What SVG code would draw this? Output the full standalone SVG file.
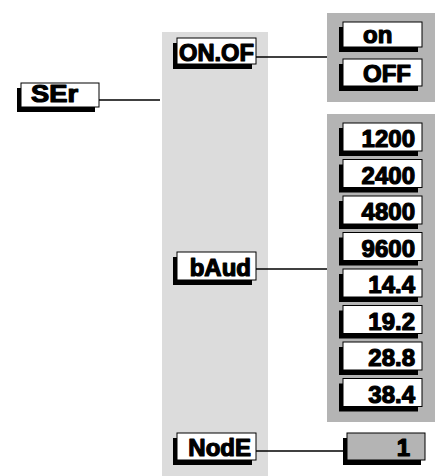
<svg xmlns="http://www.w3.org/2000/svg" width="442" height="476" viewBox="0 0 442 476">
  <style>
    .panel-l { fill: #dcdcdc; }
    .panel-r { fill: #b4b4b4; }
    .shadow { fill: #000; }
    .box { fill: #fff; stroke: #000; stroke-width: 1; }
    .box-g { fill: #b4b4b4; stroke: #000; stroke-width: 1; }
    .lbl { font-family: "Liberation Sans", Arial, sans-serif; font-weight: bold; font-size: 24px; fill: #000; stroke: #000; stroke-width: 1.2; stroke-linejoin: round; }
    .end { text-anchor: end; }
    .wire { stroke: #000; stroke-width: 1.6; fill: none; }
  </style>

  <!-- background panels -->
  <rect class="panel-l" x="162" y="32" width="106" height="444"/>
  <rect class="panel-r" x="327" y="13" width="108" height="89"/>
  <rect class="panel-r" x="327" y="114" width="108" height="308"/>

  <!-- connectors -->
  <g id="connectors">
    <line class="wire" x1="99" y1="100" x2="160" y2="100"/>
    <line class="wire" x1="256" y1="57" x2="327" y2="57"/>
    <line class="wire" x1="256" y1="269" x2="327" y2="269"/>
    <line class="wire" x1="256" y1="451" x2="347" y2="451"/>
  </g>

  <g id="ser">
    <rect class="shadow" x="17" y="88" width="78" height="24"/>
    <rect class="box" x="21" y="83" width="78" height="24"/>
    <text class="lbl" x="31" y="102" textLength="47" lengthAdjust="spacingAndGlyphs">SEr</text>
  </g>

  <g id="onof">
    <rect class="shadow" x="173" y="43" width="79" height="26"/>
    <rect class="box" x="177" y="38" width="79" height="26"/>
    <text class="lbl end" x="254" y="61" textLength="75" lengthAdjust="spacingAndGlyphs">ON.OF</text>
  </g>

  <g id="opt-on">
    <rect class="shadow" x="339" y="27" width="79" height="25"/>
    <rect class="box" x="343" y="22" width="79" height="25"/>
    <text class="lbl" x="363" y="43">on</text>
  </g>
  <g id="opt-off">
    <rect class="shadow" x="339" y="64" width="79" height="27"/>
    <rect class="box" x="343" y="59" width="79" height="27"/>
    <text class="lbl" x="363" y="82">OFF</text>
  </g>

  <g id="baud">
    <rect class="shadow" x="173" y="257" width="79" height="28"/>
    <rect class="box" x="177" y="252" width="79" height="28"/>
    <text class="lbl end" x="251" y="276">bAud</text>
  </g>

  <g id="b1200">
    <rect class="shadow" x="339" y="128" width="79" height="28"/>
    <rect class="box" x="343" y="123" width="79" height="28"/>
    <text class="lbl end" x="415" y="147">1200</text>
  </g>
  <g id="b2400">
    <rect class="shadow" x="339" y="164.5" width="79" height="28"/>
    <rect class="box" x="343" y="159.5" width="79" height="28"/>
    <text class="lbl end" x="415" y="183.5">2400</text>
  </g>
  <g id="b4800">
    <rect class="shadow" x="339" y="201" width="79" height="28"/>
    <rect class="box" x="343" y="196" width="79" height="28"/>
    <text class="lbl end" x="415" y="220">4800</text>
  </g>
  <g id="b9600">
    <rect class="shadow" x="339" y="237.5" width="79" height="28"/>
    <rect class="box" x="343" y="232.5" width="79" height="28"/>
    <text class="lbl end" x="415" y="256.5">9600</text>
  </g>
  <g id="b14400">
    <rect class="shadow" x="339" y="274" width="79" height="28"/>
    <rect class="box" x="343" y="269" width="79" height="28"/>
    <text class="lbl end" x="415" y="293">14.4</text>
  </g>
  <g id="b19200">
    <rect class="shadow" x="339" y="310.5" width="79" height="28"/>
    <rect class="box" x="343" y="305.5" width="79" height="28"/>
    <text class="lbl end" x="415" y="329.5">19.2</text>
  </g>
  <g id="b28800">
    <rect class="shadow" x="339" y="347" width="79" height="28"/>
    <rect class="box" x="343" y="342" width="79" height="28"/>
    <text class="lbl end" x="415" y="366">28.8</text>
  </g>
  <g id="b38400">
    <rect class="shadow" x="339" y="383.5" width="79" height="28"/>
    <rect class="box" x="343" y="378.5" width="79" height="28"/>
    <text class="lbl end" x="415" y="402.5">38.4</text>
  </g>

  <g id="node">
    <rect class="shadow" x="173" y="438" width="79" height="27"/>
    <rect class="box" x="177" y="433" width="79" height="27"/>
    <text class="lbl end" x="251" y="456">NodE</text>
  </g>
  <g id="node-val">
    <rect class="shadow" x="343" y="438" width="78" height="27"/>
    <rect class="box-g" x="347" y="433" width="78" height="27"/>
    <text class="lbl end" x="410" y="456">1</text>
  </g>
</svg>
